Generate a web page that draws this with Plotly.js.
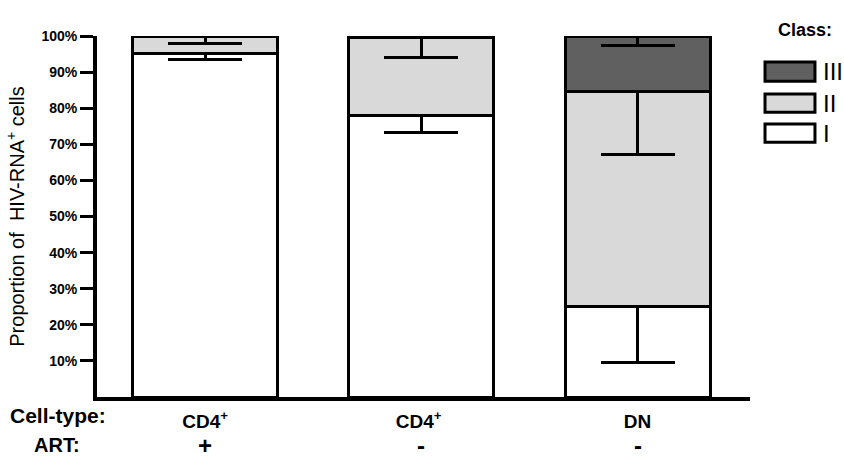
<!DOCTYPE html>
<html>
<head>
<meta charset="utf-8">
<script src="https://cdn.plot.ly/plotly-3.0.1.min.js"></script>
<style>html,body{margin:0;padding:0;background:#fff;}</style>
</head>
<body>
<div id="chart" style="width:844px;height:460px;"></div>
<script>
// Data
const cellTypes = ['CD4<sup>+</sup>', 'CD4<sup>+</sup> ', 'DN'];
const artStatus = ['+', '-', '-'];
const classNames = ['I', 'II', 'III'];
const classColors = ['#ffffff', '#d9d9d9', '#606060'];
const classI   = [95.2, 78.1, 25.2];
const classII  = [4.8, 21.4, 59.4];
const classIII = [0.0, 0.5, 15.4];
const errI   = [1.7, 4.8, 15.7];
const errII  = [2.1, 5.4, 17.3];
const errIII = [0.0, 0.0, 2.7];
const yTicks = [10, 20, 30, 40, 50, 60, 70, 80, 90, 100];

const values = [classI, classII, classIII];
const errs = [errI, errII, errIII];
const xIdx = cellTypes.map((_, i) => i);

const FONT = 'Liberation Sans, Arial, sans-serif';

const traces = values.map((v, k) => ({
  type: 'bar',
  name: classNames[k],
  x: xIdx,
  y: v,
  width: 0.67,
  marker: {color: classColors[k], line: {color: '#000', width: 3}},
  error_y: {
    type: 'data', symmetric: false,
    array: v.map(() => 0),
    arrayminus: errs[k],
    color: '#000', thickness: 3, width: 37
  },
  showlegend: false,
  hoverinfo: 'skip'
}));

// Legend (drawn as shapes + labels in paper coords)
const legY = [[0.706, 0.756], [0.789, 0.839], [0.875, 0.928]];
const legLabY = [0.731, 0.814, 0.903];
const shapes = classNames.map((c, k) => ({
  type: 'rect', xref: 'paper', yref: 'paper',
  x0: 1.023, x1: 1.0995, y0: legY[k][0], y1: legY[k][1],
  fillcolor: classColors[k], line: {color: '#000', width: 3}
}));
const annotations = classNames.map((c, k) => ({
  xref: 'paper', yref: 'paper', x: 1.108, y: legLabY[k],
  xanchor: 'left', yanchor: 'middle', showarrow: false,
  text: c, font: {family: FONT, size: 24, color: '#000'}
}));
annotations.push({
  xref: 'paper', yref: 'paper', x: 1.040, y: 1.017,
  xanchor: 'left', yanchor: 'middle', showarrow: false,
  text: 'Class:', font: {family: FONT, size: 18, color: '#000', weight: 'bold'}
});
annotations.push({
  xref: 'paper', yref: 'paper', x: -0.136, y: -0.052,
  xanchor: 'left', yanchor: 'middle', showarrow: false,
  text: 'Cell-type:', font: {family: FONT, size: 21, color: '#000', weight: 'bold'}
});
annotations.push({
  xref: 'paper', yref: 'paper', x: -0.099, y: -0.133,
  xanchor: 'left', yanchor: 'middle', showarrow: false,
  text: 'ART:', font: {family: FONT, size: 20, color: '#000', weight: 'bold'}
});
artStatus.forEach((s, i) => annotations.push({
  xref: 'x', yref: 'paper', x: i, y: -0.133,
  xanchor: 'center', yanchor: 'middle', showarrow: false,
  text: s, font: {family: FONT, size: 24, color: '#000', weight: 'bold'}
}));

const layout = {
  width: 844, height: 460,
  margin: {l: 97, r: 94, t: 36, b: 63},
  paper_bgcolor: '#fff', plot_bgcolor: '#fff',
  barmode: 'stack',
  font: {family: FONT, color: '#000'},
  xaxis: {
    range: [-0.5, 2.52],
    tickvals: xIdx, ticktext: cellTypes,
    showgrid: false, zeroline: false,
    showline: true, linecolor: '#000', linewidth: 4,
    ticks: '', ticklabelstandoff: 4,
    tickfont: {family: FONT, size: 19, color: '#000', weight: 'bold'}
  },
  yaxis: {
    range: [0, 100],
    tickvals: yTicks, ticktext: yTicks.map(t => t + '%'),
    showgrid: false, zeroline: false,
    showline: true, linecolor: '#000', linewidth: 4,
    ticks: 'outside', ticklen: 13, tickwidth: 3, tickcolor: '#000',
    tickfont: {family: FONT, size: 14, color: '#000', weight: 'bold'},
    title: {text: 'Proportion of  HIV-RNA<sup>+</sup> cells', standoff: 12,
            font: {family: FONT, size: 20, color: '#000'}}
  },
  shapes: shapes,
  annotations: annotations
};

Plotly.newPlot('chart', traces, layout, {displayModeBar: false, staticPlot: true});
</script>
</body>
</html>
